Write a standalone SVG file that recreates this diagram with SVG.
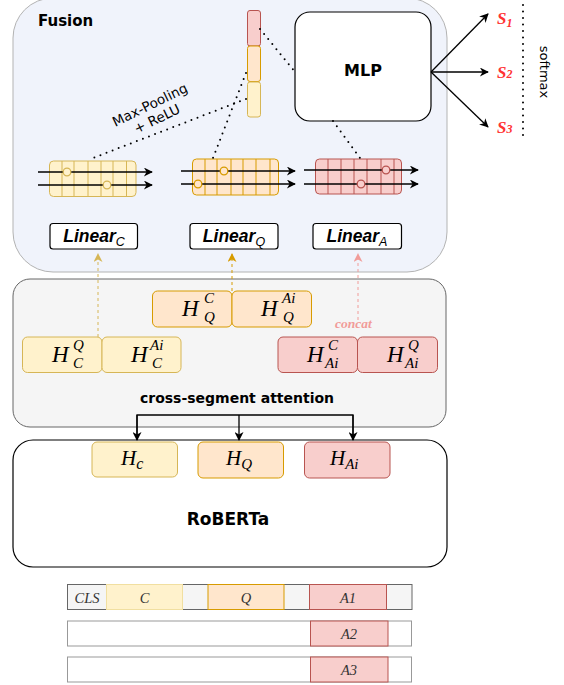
<svg xmlns="http://www.w3.org/2000/svg" width="564" height="685" viewBox="0 0 564 685">
<style>
.comic{font-family:"DejaVu Sans","Noto Sans",sans-serif;fill:#000}
.bold{font-weight:bold}
.math{font-family:"Liberation Serif","Times New Roman",serif;font-style:italic;fill:#000}
.lin{font-family:"Liberation Sans",Arial,sans-serif;font-style:italic;font-weight:bold;fill:#000}
.dot{fill:none;stroke:#000;stroke-width:2;stroke-linecap:round;stroke-dasharray:0 6.5}
.arr{fill:none;stroke:#000;stroke-width:1.3}
.yel{fill:#FFF2CC;stroke:#D6B656}
.ora{fill:#FFE6CC;stroke:#D79B00}
.red{fill:#F8CECC;stroke:#B85450}
.tok{font-family:"Liberation Serif","Times New Roman",serif;font-style:italic;font-size:14.5px;fill:#333;text-anchor:middle}
</style>
<defs>
<marker id="ah" viewBox="0 0 10 10" refX="9" refY="5" markerWidth="11" markerHeight="9" markerUnits="userSpaceOnUse" orient="auto">
<path d="M0,0 L10,5 L0,10 L3,5 z" fill="#000"/>
</marker>
<marker id="ahC" viewBox="0 0 10 10" refX="9" refY="5" markerWidth="10" markerHeight="9" markerUnits="userSpaceOnUse" orient="auto">
<path d="M0,0 L10,5 L0,10 L3,5 z" fill="#D6B656"/>
</marker>
<marker id="ahQ" viewBox="0 0 10 10" refX="9" refY="5" markerWidth="10" markerHeight="9" markerUnits="userSpaceOnUse" orient="auto">
<path d="M0,0 L10,5 L0,10 L3,5 z" fill="#D79B00"/>
</marker>
<marker id="ahA" viewBox="0 0 10 10" refX="9" refY="5" markerWidth="10" markerHeight="9" markerUnits="userSpaceOnUse" orient="auto">
<path d="M0,0 L10,5 L0,10 L3,5 z" fill="#F19C99"/>
</marker>
</defs>
<rect width="564" height="685" fill="#fff"/>

<!-- Fusion panel -->
<g id="fusion">
<rect x="13" y="-2" width="434" height="274" rx="40" fill="#F0F3FB" stroke="#B3B3B3" stroke-width="1"/>
<text class="comic bold" x="38" y="26" font-size="15">Fusion</text>
</g>

<!-- cross segment panel -->
<g id="cross">
<rect x="13" y="279" width="433" height="148" rx="17" fill="#F5F5F5" stroke="#666" stroke-width="1"/>
<text class="comic bold" x="237" y="403" font-size="14" text-anchor="middle">cross-segment attention</text>
</g>

<!-- RoBERTa -->
<g id="roberta">
<rect x="13" y="440" width="434" height="127" rx="20" fill="#fff" stroke="#000" stroke-width="1.2"/>
<text class="comic bold" x="228" y="525" font-size="17" text-anchor="middle">RoBERTa</text>
</g>

<!-- vector stack -->
<g id="vec">
<rect x="247.5" y="10.5" width="13" height="35.5" rx="2.5" class="red"/>
<rect x="247.5" y="46" width="13" height="35.5" rx="2.5" class="ora"/>
<rect x="247.5" y="82" width="13" height="35" rx="2.5" class="yel"/>
</g>

<!-- MLP -->
<g id="mlp">
<rect x="295" y="12" width="136" height="109" rx="15" fill="#fff" stroke="#000" stroke-width="1.2"/>
<text class="comic bold" x="363" y="76" font-size="16" text-anchor="middle">MLP</text>
</g>

<!-- S labels -->
<g id="scores" font-family="'Liberation Serif','Times New Roman',serif" font-style="italic" font-weight="bold" fill="#FF3333">
<text x="497" y="24" font-size="17">S<tspan font-size="12" dy="3">1</tspan></text>
<text x="497" y="78" font-size="17">S<tspan font-size="12" dy="0">2</tspan></text>
<text x="497" y="133" font-size="17">S<tspan font-size="12" dy="0">3</tspan></text>
</g>
<g id="softmax">
<line x1="523" y1="5" x2="523" y2="139" class="dot"/>
<text class="comic" x="0" y="0" font-size="13" text-anchor="middle" transform="translate(540,72) rotate(90)">softmax</text>
</g>

<!-- feature blocks -->
<g id="featC">
<rect x="49.5" y="161" width="86.5" height="35.5" rx="4" class="yel"/>
<g stroke="#D6B656">
<line x1="62" y1="161" x2="62" y2="196.5"/><line x1="74" y1="161" x2="74" y2="196.5"/><line x1="88" y1="161" x2="88" y2="196.5"/><line x1="101" y1="161" x2="101" y2="196.5"/><line x1="113" y1="161" x2="113" y2="196.5"/><line x1="126.5" y1="161" x2="126.5" y2="196.5"/>
</g>
<line x1="38" y1="172" x2="152" y2="172" class="arr" marker-end="url(#ah)"/>
<line x1="38" y1="185" x2="152" y2="185" class="arr" marker-end="url(#ah)"/>
<circle cx="67" cy="172" r="3.8" class="yel" stroke-width="1.3"/>
<circle cx="107" cy="185" r="3.8" class="yel" stroke-width="1.3"/>
</g>
<g id="featQ">
<rect x="192.5" y="159" width="86" height="36" rx="4" class="ora"/>
<g stroke="#D79B00">
<line x1="205" y1="159" x2="205" y2="195"/><line x1="217" y1="159" x2="217" y2="195"/><line x1="231" y1="159" x2="231" y2="195"/><line x1="243" y1="159" x2="243" y2="195"/><line x1="256" y1="159" x2="256" y2="195"/><line x1="270" y1="159" x2="270" y2="195"/>
</g>
<line x1="181" y1="171" x2="295" y2="171" class="arr" marker-end="url(#ah)"/>
<line x1="181" y1="184" x2="295" y2="184" class="arr" marker-end="url(#ah)"/>
<circle cx="224" cy="171" r="3.8" class="ora" stroke-width="1.3"/>
<circle cx="198" cy="184" r="3.8" class="ora" stroke-width="1.3"/>
</g>
<g id="featA">
<rect x="315.5" y="159" width="86" height="35" rx="4" class="red"/>
<g stroke="#B85450">
<line x1="328" y1="159" x2="328" y2="194"/><line x1="341" y1="159" x2="341" y2="194"/><line x1="354" y1="159" x2="354" y2="194"/><line x1="367" y1="159" x2="367" y2="194"/><line x1="381" y1="159" x2="381" y2="194"/><line x1="394" y1="159" x2="394" y2="194"/>
</g>
<line x1="304" y1="170" x2="418" y2="170" class="arr" marker-end="url(#ah)"/>
<line x1="304" y1="184" x2="418" y2="184" class="arr" marker-end="url(#ah)"/>
<circle cx="386" cy="170" r="3.8" class="red" stroke-width="1.3"/>
<circle cx="361" cy="184" r="3.8" class="red" stroke-width="1.3"/>
</g>

<!-- Linear boxes -->
<g id="linC">
<rect x="50" y="223.5" width="87.5" height="25.5" rx="3" fill="#fff" stroke="#000" stroke-width="1.2"/>
<text class="lin" x="94" y="242" font-size="17.5" text-anchor="middle">Linear<tspan font-size="12.5" font-weight="normal" dy="4">C</tspan></text>
</g>
<g id="linQ">
<rect x="190" y="223.5" width="88" height="25.5" rx="3" fill="#fff" stroke="#000" stroke-width="1.2"/>
<text class="lin" x="234" y="242" font-size="17.5" text-anchor="middle">Linear<tspan font-size="12.5" font-weight="normal" dy="4">Q</tspan></text>
</g>
<g id="linA">
<rect x="313" y="223.5" width="88.5" height="25.5" rx="3" fill="#fff" stroke="#000" stroke-width="1.2"/>
<text class="lin" x="357" y="242" font-size="17.5" text-anchor="middle">Linear<tspan font-size="12.5" font-weight="normal" dy="4">A</tspan></text>
</g>

<!-- H pairs in cross-segment -->
<g id="hQC">
<rect x="152.5" y="291" width="79.5" height="36" rx="5" class="ora"/>
<text class="math" x="182" y="316" font-size="23">H</text>
<text class="math" x="204" y="303" font-size="15">C</text>
<text class="math" x="204" y="322" font-size="15">Q</text>
</g>
<g id="hQA">
<rect x="232" y="291" width="79.5" height="36" rx="5" class="ora"/>
<text class="math" x="261" y="316" font-size="23">H</text>
<text class="math" x="282" y="303" font-size="15">Ai</text>
<text class="math" x="283" y="322" font-size="15">Q</text>
</g>
<g id="hCQ">
<rect x="22.5" y="337" width="79.5" height="35.5" rx="5" class="yel"/>
<text class="math" x="52" y="362" font-size="23">H</text>
<text class="math" x="73" y="350" font-size="15">Q</text>
<text class="math" x="73" y="368" font-size="15">C</text>
</g>
<g id="hCA">
<rect x="102" y="337" width="79" height="35.5" rx="5" class="yel"/>
<text class="math" x="131" y="362" font-size="23">H</text>
<text class="math" x="150" y="350" font-size="15">Ai</text>
<text class="math" x="152" y="368" font-size="15">C</text>
</g>
<g id="hAC">
<rect x="278" y="337" width="79.5" height="35.5" rx="5" class="red"/>
<text class="math" x="307" y="362" font-size="23">H</text>
<text class="math" x="328" y="350" font-size="15">C</text>
<text class="math" x="325" y="368" font-size="15">Ai</text>
</g>
<g id="hAQ">
<rect x="357.5" y="337" width="80" height="35.5" rx="5" class="red"/>
<text class="math" x="387" y="362" font-size="23">H</text>
<text class="math" x="408" y="350" font-size="15">Q</text>
<text class="math" x="405" y="368" font-size="15">Ai</text>
</g>
<text id="concat" x="335" y="328" font-family="'Liberation Serif','Times New Roman',serif" font-style="italic" font-weight="bold" font-size="13.5" fill="#F19C99">concat</text>

<!-- H in RoBERTa -->
<g id="hc">
<rect x="92" y="442" width="85.5" height="35" rx="5" class="yel"/>
<text class="math" x="121" y="465" font-size="21">H<tspan font-size="16" dy="4">c</tspan></text>
</g>
<g id="hq">
<rect x="198" y="442" width="85.5" height="36" rx="5" class="ora"/>
<text class="math" x="226" y="465" font-size="21">H<tspan font-size="15" dy="4">Q</tspan></text>
</g>
<g id="ha">
<rect x="304.5" y="442" width="85.5" height="36" rx="5" class="red"/>
<text class="math" x="330" y="465" font-size="21">H<tspan font-size="15" dy="4">Ai</tspan></text>
</g>

<!-- token bars -->
<g id="bar1">
<rect x="67.5" y="584.5" width="344.5" height="25" fill="#F5F5F5" stroke="#666"/>
<rect x="67.5" y="584.5" width="39" height="25" fill="#F5F5F5" stroke="#666"/>
<rect x="106.5" y="584.5" width="76" height="25" fill="#FFF2CC" stroke="#F1DFA0"/>
<rect x="208" y="584.5" width="76" height="25" class="ora"/>
<rect x="309.5" y="584.5" width="77" height="25" class="red"/>
<text class="tok" x="87" y="603" fill="#555">CLS</text>
<text class="tok" x="144.5" y="603">C</text>
<text class="tok" x="246" y="603">Q</text>
<text class="tok" x="348" y="603">A1</text>
</g>
<g id="bar2">
<rect x="67.5" y="621" width="344" height="25" fill="#fff" stroke="#999"/>
<rect x="310.5" y="621" width="77.5" height="25" class="red"/>
<text class="tok" x="349" y="639">A2</text>
</g>
<g id="bar3">
<rect x="67.5" y="657" width="344" height="25" fill="#fff" stroke="#999"/>
<rect x="310.5" y="657" width="77.5" height="25" class="red"/>
<text class="tok" x="349" y="675">A3</text>
</g>

<!-- connectors -->
<g id="connectors">
<line x1="431" y1="72" x2="488" y2="14" class="arr" marker-end="url(#ah)"/>
<line x1="431" y1="72" x2="488" y2="72" class="arr" marker-end="url(#ah)"/>
<line x1="431" y1="72" x2="488" y2="127" class="arr" marker-end="url(#ah)"/>
<line x1="260" y1="29" x2="295" y2="72" class="dot"/>
<line x1="246" y1="73" x2="213" y2="158" class="dot"/>
<line x1="246" y1="99" x2="93" y2="158" class="dot"/>
<line x1="333" y1="121" x2="360" y2="158" class="dot"/>
<line x1="98" y1="337" x2="98" y2="254" stroke="#D6B656" stroke-width="1" stroke-dasharray="3 3" marker-end="url(#ahC)"/>
<line x1="232" y1="291" x2="232" y2="254" stroke="#D79B00" stroke-width="1" stroke-dasharray="3 3" marker-end="url(#ahQ)"/>
<line x1="358" y1="320" x2="358" y2="254" stroke="#F19C99" stroke-width="1" stroke-dasharray="3 3" marker-end="url(#ahA)"/>
<polyline points="137,440 137,415 353,415 353,440" class="arr"/>
<line x1="137" y1="415" x2="137" y2="440" class="arr" marker-end="url(#ah)"/>
<line x1="239" y1="415" x2="239" y2="440" class="arr" marker-end="url(#ah)"/>
<line x1="353" y1="415" x2="353" y2="440" class="arr" marker-end="url(#ah)"/>
</g>
<g id="maxpool-label" class="comic" font-size="13.5" text-anchor="middle">
<text transform="translate(152,109) rotate(-26)">Max-Pooling</text>
<text transform="translate(159,123) rotate(-26)">+ ReLU</text>
</g>
</svg>
